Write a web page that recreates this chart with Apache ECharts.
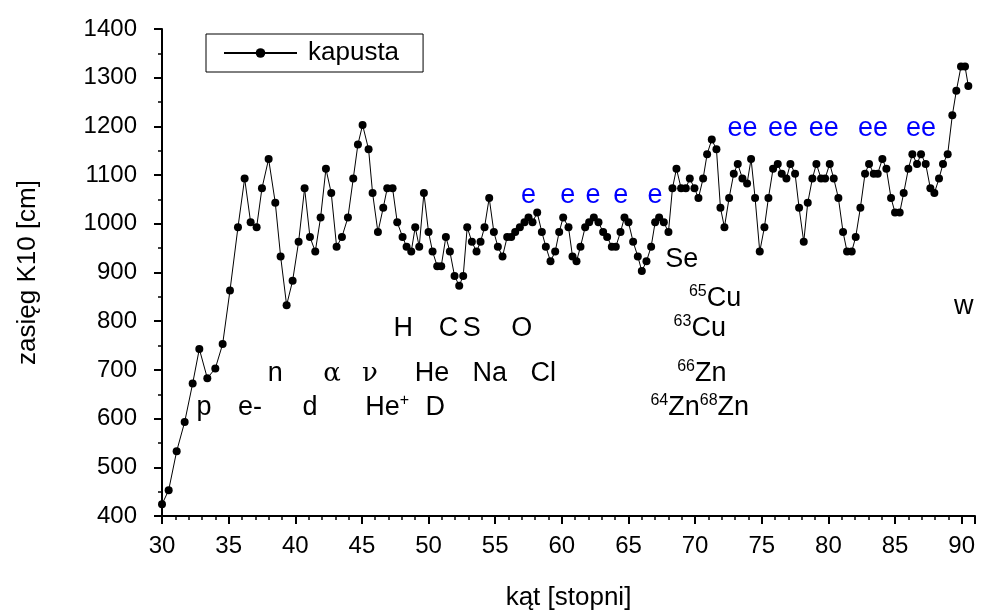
<!DOCTYPE html>
<html>
<head>
<meta charset="utf-8">
<script src="https://cdn.jsdelivr.net/npm/echarts@6/dist/echarts.min.js"></script>
<style>
  html, body { margin: 0; padding: 0; background: #fff; }
  #chart { width: 981px; height: 616px; }
</style>
</head>
<body>
<div id="chart"></div>
<script>
// kąt [stopni]
const angles = [
  30.0, 30.5, 31.1, 31.7, 32.3, 32.8, 33.4, 34.0, 34.55, 35.1, 35.7, 36.2, 36.65, 37.1, 37.5,
  38.0, 38.5, 38.9, 39.35, 39.8, 40.25, 40.7, 41.1, 41.5, 41.9, 42.3, 42.7, 43.1, 43.5, 43.95,
  44.35, 44.7, 45.05, 45.5, 45.8, 46.2, 46.6, 46.9, 47.3, 47.65, 48.05, 48.35, 48.7, 49.0, 49.3,
  49.65, 50.0, 50.3, 50.65, 50.95, 51.3, 51.6, 51.95, 52.3, 52.6, 52.9, 53.25, 53.6, 53.9, 54.2,
  54.55, 54.9, 55.2, 55.55, 55.9, 56.2, 56.5, 56.85, 57.2, 57.5, 57.8, 58.15, 58.5, 58.8, 59.15,
  59.5, 59.8, 60.1, 60.5, 60.8, 61.1, 61.4, 61.75, 62.05, 62.4, 62.75, 63.1, 63.4, 63.75, 64.05,
  64.4, 64.7, 65.0, 65.35, 65.7, 66.0, 66.35, 66.7, 67.0, 67.3, 67.65, 68.0, 68.3, 68.6, 68.95,
  69.3, 69.6, 69.95, 70.25, 70.6, 70.9, 71.25, 71.6, 71.9, 72.2, 72.55, 72.9, 73.2, 73.55, 73.9,
  74.2, 74.5, 74.85, 75.2, 75.5, 75.85, 76.2, 76.5, 76.85, 77.15, 77.5, 77.8, 78.15, 78.45, 78.8,
  79.1, 79.45, 79.75, 80.1, 80.4, 80.75, 81.1, 81.4, 81.75, 82.05, 82.4, 82.75, 83.05, 83.4, 83.7,
  84.05, 84.35, 84.7, 85.0, 85.35, 85.65, 86.0, 86.3, 86.65, 86.95, 87.3, 87.65, 87.95, 88.3, 88.6,
  88.95, 89.3, 89.6, 89.95, 90.25, 90.5
]

// zasięg K10 [cm] - kapusta
const ranges = [
  424, 453, 533, 593, 672, 743, 683, 703, 753, 863, 993, 1093, 1003, 993, 1073,
  1133, 1043, 933, 833, 883, 963, 1073, 973, 943, 1013, 1113, 1063, 953, 973, 1013,
  1093, 1163, 1203, 1153, 1063, 983, 1033, 1073, 1073, 1003, 973, 953, 943, 993, 953,
  1063, 983, 943, 913, 913, 973, 943, 893, 873, 893, 993, 963, 943, 963, 993,
  1053, 983, 953, 933, 973, 973, 983, 993, 1003, 1013, 1003, 1023, 983, 953, 923,
  943, 983, 1013, 993, 933, 923, 953, 993, 1003, 1013, 1003, 983, 973, 953, 953,
  983, 1013, 1003, 963, 933, 903, 923, 953, 1003, 1013, 1003, 983, 1073, 1113, 1073,
  1073, 1093, 1073, 1053, 1093, 1143, 1173, 1153, 1033, 993, 1053, 1103, 1123, 1093, 1083,
  1133, 1053, 943, 993, 1053, 1113, 1123, 1103, 1093, 1123, 1103, 1033, 963, 1043, 1093,
  1123, 1093, 1093, 1123, 1093, 1053, 983, 943, 943, 973, 1033, 1103, 1123, 1103, 1103,
  1133, 1113, 1053, 1023, 1023, 1063, 1113, 1143, 1123, 1143, 1123, 1073, 1063, 1093, 1123,
  1143, 1223, 1273, 1323, 1323, 1283
]

const seriesName = 'kapusta'
const xMin = 30, xMax = 91, xStep = 5
const yMin = 400, yMax = 1400, yStep = 100

// opisy na wykresie (tekst + miejsce w układzie wykresu)
const notes = [
  { t: 'p', at: [33.15, 623] },
  { t: 'e-', at: [36.6, 623] },
  { t: 'n', at: [38.5, 692] },
  { t: 'd', at: [41.1, 623] },
  { t: '{g|α}', at: [42.75, 692] },
  { t: '{g|ν}', at: [45.6, 692] },
  { t: 'He{sup|+}', at: [46.9, 623] },
  { t: 'H', at: [48.1, 785] },
  { t: 'C', at: [51.5, 785] },
  { t: 'S', at: [53.25, 785] },
  { t: 'O', at: [57.0, 785] },
  { t: 'He', at: [50.25, 692] },
  { t: 'D', at: [50.5, 623] },
  { t: 'Na', at: [54.6, 692] },
  { t: 'Cl', at: [58.6, 692] },
  { t: 'Se', at: [69.0, 927] },
  { t: '{sup|65}Cu', at: [71.5, 846] },
  { t: '{sup|63}Cu', at: [70.35, 785] },
  { t: '{sup|66}Zn', at: [70.5, 692] },
  { t: '{sup|64}Zn{sup|68}Zn', at: [70.35, 623] },
  { t: 'w', at: [90.15, 830] },
  { t: 'e', at: [57.5, 1059], blue: true },
  { t: 'e', at: [60.45, 1059], blue: true },
  { t: 'e', at: [62.33, 1059], blue: true },
  { t: 'e', at: [64.43, 1059], blue: true },
  { t: 'e', at: [67.0, 1059], blue: true },
  { t: 'ee', at: [73.55, 1196], blue: true },
  { t: 'ee', at: [76.6, 1196], blue: true },
  { t: 'ee', at: [79.65, 1196], blue: true },
  { t: 'ee', at: [83.35, 1196], blue: true },
  { t: 'ee', at: [86.95, 1196], blue: true }
]

const font = 'Liberation Sans'

const chartDom = document.getElementById('chart')
const chart = echarts.init(chartDom, null, { renderer: 'canvas' })

const lineData = angles.map((a, i) => [a, ranges[i]])

const noteData = notes.map(n => ({
  value: n.at,
  name: n.t,
  label: { color: n.blue ? '#0000ff' : '#000000' }
}))

const option = {
  backgroundColor: '#fff',
  animation: false,
  textStyle: { fontFamily: font },
  grid: { left: 162, right: 6, top: 29, bottom: 93 },
  legend: {
    data: [seriesName],
    left: 206,
    top: 34,
    orient: 'horizontal',
    itemWidth: 73,
    itemHeight: 12,
    itemGap: 0,
    padding: [6, 24, 6, 17],
    borderColor: '#000',
    borderWidth: 1,
    borderRadius: 0,
    textStyle: { fontSize: 26, color: '#000', fontFamily: font, padding: [0, 0, 0, 6] }
  },
  xAxis: {
    type: 'value',
    min: xMin,
    max: xMax,
    interval: xStep,
    name: 'kąt [stopni]',
    nameLocation: 'middle',
    nameGap: 69,
    nameTextStyle: { fontSize: 26, color: '#000', fontFamily: font },
    axisLine: { onZero: false, lineStyle: { color: '#000', width: 2 } },
    axisTick: { show: true, inside: false, length: 8, lineStyle: { color: '#000', width: 2 } },
    minorTick: { show: true, splitNumber: 5, length: 4, lineStyle: { color: '#000', width: 1.5 } },
    axisLabel: { fontSize: 24, color: '#000', margin: 18, fontFamily: font, showMaxLabel: false },
    splitLine: { show: false }
  },
  yAxis: {
    type: 'value',
    min: yMin,
    max: yMax,
    interval: yStep,
    name: 'zasięg K10 [cm]',
    nameLocation: 'middle',
    nameRotate: 90,
    nameGap: 121,
    nameTextStyle: { fontSize: 26, color: '#000', fontFamily: font },
    axisLine: { show: true, onZero: false, lineStyle: { color: '#000', width: 2 } },
    axisTick: { show: true, inside: false, length: 8, lineStyle: { color: '#000', width: 2 } },
    minorTick: { show: true, splitNumber: 2, length: 4, lineStyle: { color: '#000', width: 1.5 } },
    axisLabel: { fontSize: 24, color: '#000', margin: 25, fontFamily: font, formatter: v => String(v) },
    splitLine: { show: false }
  },
  series: [
    {
      name: seriesName,
      type: 'line',
      data: lineData,
      symbol: 'circle',
      symbolSize: 8,
      showAllSymbol: true,
      itemStyle: { color: '#000' },
      lineStyle: { color: '#000', width: 1 },
      emphasis: { disabled: true },
      z: 3
    },
    {
      name: 'opisy',
      type: 'scatter',
      data: noteData,
      symbolSize: 0,
      silent: true,
      itemStyle: { opacity: 1 },
      emphasis: { disabled: true },
      z: 4,
      label: {
        show: true,
        position: 'inside',
        fontSize: 27,
        fontFamily: font,
        opacity: 1,
        formatter: p => p.name,
        rich: {
          sup: { fontSize: 16, verticalAlign: 'top', lineHeight: 30, fontFamily: font },
          g: { fontSize: 26, fontFamily: 'DejaVu Serif', lineHeight: 30 }
        }
      }
    }
  ]
}

chart.setOption(option)

window.addEventListener('resize', () => chart.resize())
</script>
</body>
</html>
